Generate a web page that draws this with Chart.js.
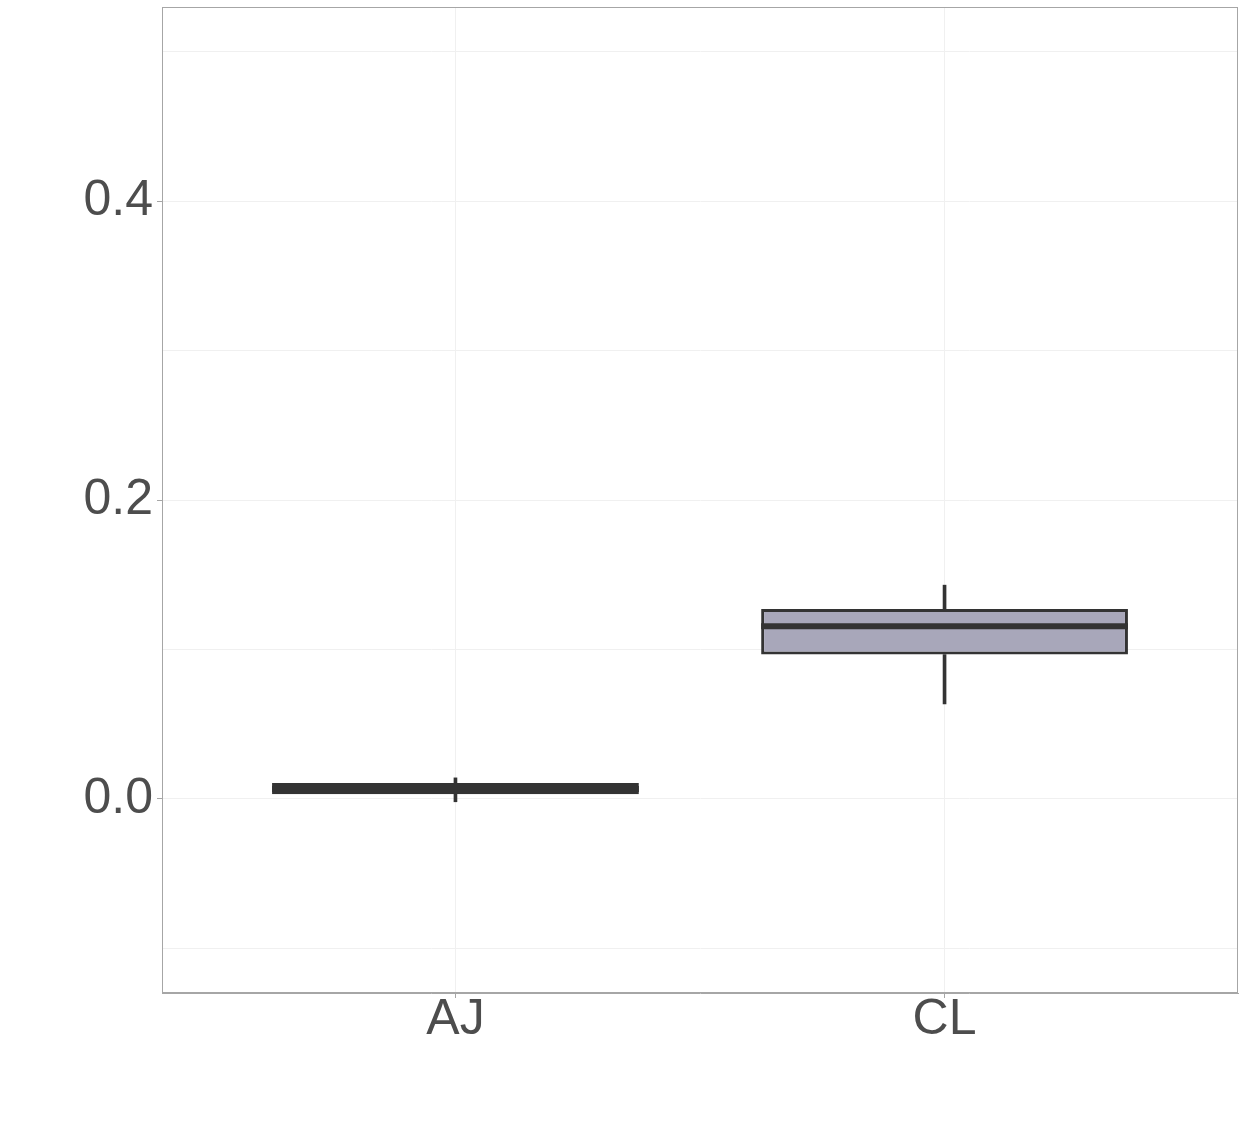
<!DOCTYPE html>
<html>
<head>
<meta charset="utf-8">
<script src="https://cdn.jsdelivr.net/npm/chart.js@4"></script>
<style>
  html, body { margin: 0; padding: 0; background: #ffffff; }
  #wrap { width: 1246px; height: 1132px; }
</style>
</head>
<body>
<div id="wrap"><canvas id="boxChart"></canvas></div>
<script>
// categories and box statistics
const categories = ['AJ', 'CL']
const positions = [1, 2]
const whiskerLow = [-0.002, 0.0635]
const lowerQuartile = [0.003, 0.0965]
const medians = [0.0065, 0.1155]
const upperQuartile = [0.0105, 0.127]
const whiskerHigh = [0.014, 0.143]
const yTicks = [-0.1, 0, 0.1, 0.2, 0.3, 0.4, 0.5]
const yLabelled = [0, 0.2, 0.4]

const boxFill = '#a8a7ba'
const lineColor = '#333333'

const boxes = positions.map((x, i) => ({ x, y: [lowerQuartile[i], upperQuartile[i]] }))
const upperWhiskers = positions.map((x, i) => ({ x, y: [upperQuartile[i], whiskerHigh[i]] }))
const lowerWhiskers = positions.map((x, i) => ({ x, y: [whiskerLow[i], lowerQuartile[i]] }))

// median lines drawn over each box, width taken from the box bar
const medianPlugin = {
  id: 'medianLines',
  afterDatasetsDraw(chart) {
    const meta = chart.getDatasetMeta(0)
    const yScale = chart.scales.y
    const ctx = chart.ctx
    ctx.save()
    ctx.strokeStyle = lineColor
    ctx.lineWidth = 6
    meta.data.forEach((bar, i) => {
      const y = yScale.getPixelForValue(medians[i])
      ctx.beginPath()
      ctx.moveTo(bar.x - bar.width / 2, y)
      ctx.lineTo(bar.x + bar.width / 2, y)
      ctx.stroke()
    })
    ctx.restore()
  }
}

const panelBorder = {
  id: 'panelBorder',
  afterDraw(chart) {
    const { left, top, width, height } = chart.chartArea
    const ctx = chart.ctx
    ctx.save()
    ctx.strokeStyle = '#a6a6a6'
    ctx.lineWidth = 1
    ctx.strokeRect(left + 0.5, top + 0.5, width - 1, height - 1)
    ctx.restore()
  }
}

const ctx = document.getElementById('boxChart').getContext('2d')

new Chart(ctx, {
  type: 'bar',
  data: {
    datasets: [
      {
        data: boxes,
        backgroundColor: boxFill,
        borderColor: lineColor,
        borderWidth: 3,
        borderSkipped: false,
        grouped: false,
        barPercentage: 0.75,
        categoryPercentage: 1,
        order: 0
      },
      {
        data: upperWhiskers,
        backgroundColor: lineColor,
        borderWidth: 0,
        grouped: false,
        barThickness: 3,
        order: 1
      },
      {
        data: lowerWhiskers,
        backgroundColor: lineColor,
        borderWidth: 0,
        grouped: false,
        barThickness: 3,
        order: 1
      }
    ]
  },
  options: {
    responsive: true,
    maintainAspectRatio: false,
    animation: false,
    layout: { padding: { top: 7, right: 8, left: 0, bottom: 0 } },
    plugins: {
      legend: { display: false },
      tooltip: { enabled: false }
    },
    scales: {
      x: {
        type: 'linear',
        min: 0.4,
        max: 2.6,
        offset: false,
        afterBuildTicks: scale => {
          scale.ticks = positions.map(v => ({ value: v }))
        },
        afterFit: scale => {
          scale.height = 139
          scale.paddingLeft = 0
          scale.paddingRight = 0
        },
        grid: {
          offset: false,
          color: '#f0f0f0',
          lineWidth: 1,
          tickLength: 5,
          tickColor: '#a6a6a6'
        },
        border: { color: '#a6a6a6' },
        ticks: {
          color: '#4d4d4d',
          font: { family: 'Liberation Sans, Arial, sans-serif', size: 50 },
          padding: -8,
          maxRotation: 0,
          callback: value => categories[positions.indexOf(value)] || ''
        }
      },
      y: {
        min: -0.13,
        max: 0.53,
        afterBuildTicks: scale => {
          scale.ticks = yTicks.map(v => ({ value: v }))
        },
        afterFit: scale => {
          scale.width = 162
          scale.paddingTop = 0
          scale.paddingBottom = 0
        },
        grid: {
          color: '#f0f0f0',
          lineWidth: 1,
          tickLength: 5,
          tickColor: c => (yLabelled.includes(c.tick.value) ? '#a6a6a6' : 'rgba(0,0,0,0)')
        },
        border: { color: '#a6a6a6' },
        ticks: {
          color: '#4d4d4d',
          font: { family: 'Liberation Sans, Arial, sans-serif', size: 50 },
          padding: 4,
          callback: value => (yLabelled.includes(value) ? value.toFixed(1) : '')
        }
      }
    }
  },
  plugins: [medianPlugin, panelBorder]
})
</script>
</body>
</html>
